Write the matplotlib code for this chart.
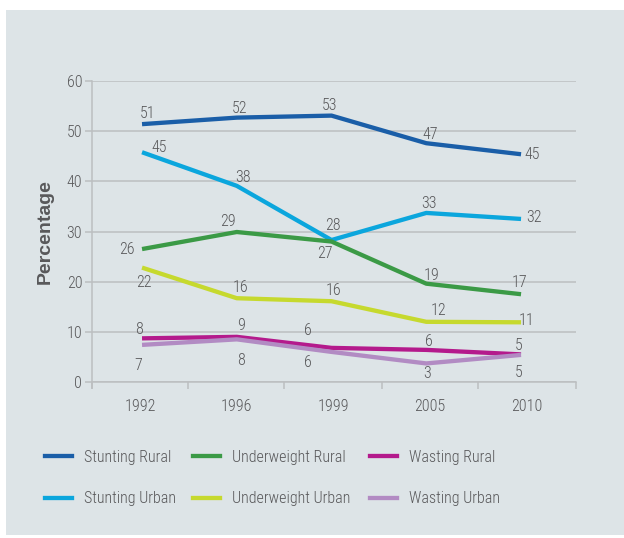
import matplotlib
matplotlib.use("Agg")
import matplotlib.pyplot as plt
from matplotlib.patches import Rectangle
from matplotlib.lines import Line2D

years = ["1992", "1996", "1999", "2005", "2010"]
series_names = ["Stunting Rural", "Stunting Urban", "Underweight Rural",
                "Underweight Urban", "Wasting Rural", "Wasting Urban"]
stunting_rural = [51.4, 52.7, 53.1, 47.6, 45.4]
stunting_urban = [45.8, 39.1, 28.3, 33.7, 32.5]
underweight_rural = [26.5, 29.9, 28.0, 19.6, 17.5]
underweight_urban = [22.8, 16.7, 16.1, 12.0, 11.9]
wasting_rural = [8.7, 9.0, 6.8, 6.4, 5.5]
wasting_urban = [7.4, 8.5, 6.0, 3.7, 5.4]
labels_stunting_rural = ["51", "52", "53", "47", "45"]
labels_stunting_urban = ["45", "38", "28", "33", "32"]
labels_underweight_rural = ["26", "29", "27", "19", "17"]
labels_underweight_urban = ["22", "16", "16", "12", "11"]
labels_wasting_rural = ["8", "9", "6", "6", "5"]
labels_wasting_urban = ["7", "8", "6", "3", "5"]

values = [stunting_rural, stunting_urban, underweight_rural,
          underweight_urban, wasting_rural, wasting_urban]
value_labels = [labels_stunting_rural, labels_stunting_urban, labels_underweight_rural,
                labels_underweight_urban, labels_wasting_rural, labels_wasting_urban]
colors = ["#1a5ea8", "#0ba6dd", "#3b9a46", "#c6d92e", "#b41a8c", "#b28bc3"]

# label offsets in pixels (dx, dy-up), centered
offsets = [
    [(6, 10.5), (2.5, 9), (-2, 10), (4, 8.5), (11.5, 0)],
    [(17, 4.5), (6, 8), (1, 14.5), (2.5, 9), (13, 1)],
    [(-15.5, 0), (-9, 11), (-7, -12), (5, 8.5), (-2, 12)],
    [(2, -15), (3.5, 11), (2, 11), (12.5, 11), (5.5, 1.5)],
    [(-3, 9), (4.5, 11), (-24, 17), (3, 8.5), (-2, 8.5)],
    [(-4, -21), (4.5, -21), (-24, -11), (1, -10.5), (-2, -17.5)],
]

FONT = ["Roboto Condensed", "Archivo Narrow", "PT Sans Narrow", "Liberation Sans", "DejaVu Sans"]
plt.rcParams['font.family'] = FONT
plt.rcParams['font.weight'] = 300
TXT = "#58585a"
GRID = "#bcbfc1"
BG = "#dde4e7"
FS = 11.5

dpi = 100
fig = plt.figure(figsize=(6.24, 5.38), dpi=dpi, facecolor="white")
fig.patches.append(Rectangle((6 / 624, 1 - 535 / 538), 618 / 624, 525 / 538,
                             transform=fig.transFigure, facecolor=BG, edgecolor="none", zorder=-10))

ax = fig.add_axes([92 / 624, 1 - 382 / 538, 484 / 624, 301 / 538])
ax.set_facecolor("none")

px = 72 / dpi
for vals, labs, col, offs in zip(values, value_labels, colors, offsets):
    xs = list(range(len(years)))
    ax.plot(xs, vals, color=col, lw=3.1, solid_capstyle="butt", solid_joinstyle="round", zorder=3)
    for i, (v, lab, (dx, dy)) in enumerate(zip(vals, labs, offs)):
        ax.annotate(lab, (i, v), xytext=(dx * px, dy * px), textcoords="offset points",
                    ha="center", va="center", fontsize=FS, color=TXT)

bounds = [-0.528, 0.486, 1.50, 2.53, 3.55, 4.58]
centers = [(a + b) / 2 for a, b in zip(bounds[:-1], bounds[1:])]
ax.set_xlim(bounds[0], bounds[-1])
ax.set_ylim(0, 60)
ax.set_yticks([0, 10, 20, 30, 40, 50, 60])
ax.set_xticks(centers)
ax.set_xticklabels(years)
ax.set_xticks(bounds, minor=True)
ax.tick_params(axis="x", which="major", length=0, pad=12, labelsize=FS, labelcolor=TXT)
ax.tick_params(axis="x", which="minor", length=5, width=1.1, color=GRID, direction="out")
ax.tick_params(axis="y", length=5, width=1.1, color=GRID, pad=2, labelsize=FS, labelcolor=TXT)
ax.grid(axis="y", color=GRID, lw=1.1, zorder=0)
ax.set_axisbelow(True)
for s in ["top", "right"]:
    ax.spines[s].set_visible(False)
for s in ["left", "bottom"]:
    ax.spines[s].set_color(GRID)
    ax.spines[s].set_linewidth(1.1)
ax.spines["left"].set_bounds(-1.2, 60)
ax.set_ylabel("Percentage", fontsize=14, fontweight="bold", color=TXT,
              family=["Liberation Sans", "DejaVu Sans"], labelpad=9)

# legend: three columns
cols_x = [45, 193, 370]
for c in range(3):
    handles = [Line2D([], [], color=colors[2 * c + r], lw=3.1) for r in range(2)]
    fig.legend(handles, series_names[2 * c:2 * c + 2], loc="upper left",
               bbox_to_anchor=(cols_x[c] / 624, 1 - 450 / 538),
               frameon=False, fontsize=FS, handlelength=1.7, handletextpad=0.72,
               labelspacing=1.65, borderpad=0, borderaxespad=0, labelcolor=TXT)

fig.savefig("out.png", dpi=dpi, facecolor="white")
